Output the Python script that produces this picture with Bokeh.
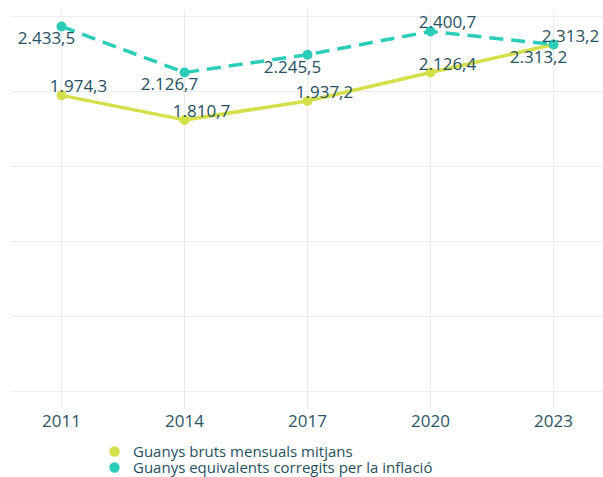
from bokeh.plotting import figure
from bokeh.layouts import column
from bokeh.models import Range1d, FixedTicker, Legend, LegendItem, ColumnDataSource, Grid
from bokeh.core.properties import value
from bokeh.embed import file_html
from bokeh.resources import INLINE

# ---- data ----
years = [2011, 2014, 2017, 2020, 2023]
guanys_bruts = [1974.3, 1810.7, 1937.2, 2126.4, 2313.2]
guanys_corregits = [2433.5, 2126.7, 2245.5, 2400.7, 2313.2]
series_names = ["Guanys bruts mensuals mitjans", "Guanys equivalents corregits per la inflació"]
y_grid_values = [0, 500, 1000, 1500, 2000, 2500]

# label placement: "ur" = above-right of the point, "dl" = below-left
place_bruts = ["ur", "ur", "ur", "ur", "dl"]
place_corregits = ["dl", "dl", "dl", "ur", "ur"]

LIME = "#d3e04a"
TEAL = "#2ccdb8"
TEXT = "#26505f"
FONT = "Open Sans"
OFFS = {"ur": (17, -9), "dl": (-15, 12)}


def fmt(v):
    s = f"{v:,.1f}"
    return s.replace(",", "X").replace(".", ",").replace("X", ".")


p = figure(width=603, height=437,
           x_range=Range1d(2009.756, 2024.22), y_range=Range1d(-113.3, 2540),
           y_axis_location=None,
           output_backend="svg", toolbar_location=None,
           min_border_left=10, min_border_right=0, min_border_top=10, min_border_bottom=29)
p.outline_line_color = None
p.background_fill_color = "white"
p.border_fill_color = "white"

# grids
p.xgrid.ticker = FixedTicker(ticks=years)
p.xgrid.grid_line_color = "#eaeaea"
p.xgrid.grid_line_width = 1
ygrid = Grid(dimension=1, ticker=FixedTicker(ticks=y_grid_values),
             grid_line_color="#ededed", grid_line_width=1)
p.add_layout(ygrid)

# x axis
ax = p.xaxis[0]
ax.ticker = FixedTicker(ticks=years)
ax.axis_line_color = None
ax.major_tick_line_color = None
ax.minor_tick_line_color = None
ax.major_tick_out = 0
ax.major_label_text_font = FONT
ax.major_label_text_font_size = "17px"
ax.major_label_text_color = "#2c5566"
ax.major_label_standoff = 6

# series
p.line(years, guanys_bruts, line_color=LIME, line_width=3.5)
p.scatter(years, guanys_bruts, size=6, fill_color=LIME, line_color=LIME, line_width=4)
p.line(years, guanys_corregits, line_color=TEAL, line_width=3.5, line_dash="14 8")
p.scatter(years, guanys_corregits, size=6, fill_color=TEAL, line_color=TEAL, line_width=4)

# data labels
for vals, place in ((guanys_bruts, place_bruts), (guanys_corregits, place_corregits)):
    src = ColumnDataSource(dict(
        x=years, y=vals, t=[fmt(v) for v in vals],
        xo=[OFFS[k][0] for k in place], yo=[OFFS[k][1] for k in place]))
    p.text(x="x", y="y", text="t", x_offset="xo", y_offset="yo", source=src,
           text_font=value(FONT), text_font_size="17px", text_color=TEXT,
           text_align="center", text_baseline="middle")

# ---- legend strip (one legend per row so rows sit 16px apart) ----
lg = figure(width=603, height=40, x_range=Range1d(0, 1), y_range=Range1d(0, 1),
            x_axis_location=None, y_axis_location=None,
            output_backend="svg", toolbar_location=None,
            min_border_left=0, min_border_right=0, min_border_top=0, min_border_bottom=0)
lg.outline_line_color = None
lg.xgrid.visible = False
lg.ygrid.visible = False
r1 = lg.scatter(years, guanys_bruts, size=6, fill_color=LIME, line_color=LIME, line_width=4, visible=False)
r2 = lg.scatter(years, guanys_corregits, size=6, fill_color=TEAL, line_color=TEAL, line_width=4, visible=False)
for i, (name, rend) in enumerate(zip(series_names, [r1, r2])):
    legend = Legend(items=[LegendItem(label=name, renderers=[rend])],
                    location=(96, 16 - 16 * i), orientation="vertical",
                    glyph_width=16, glyph_height=20, label_height=16, label_standoff=11,
                    padding=0, margin=0, spacing=0,
                    border_line_alpha=0, background_fill_alpha=0,
                    label_text_font=FONT, label_text_font_size="15px",
                    label_text_color=TEXT)
    lg.add_layout(legend, "center")

open("out.html", "w").write(file_html(column(p, lg, spacing=0), INLINE))
